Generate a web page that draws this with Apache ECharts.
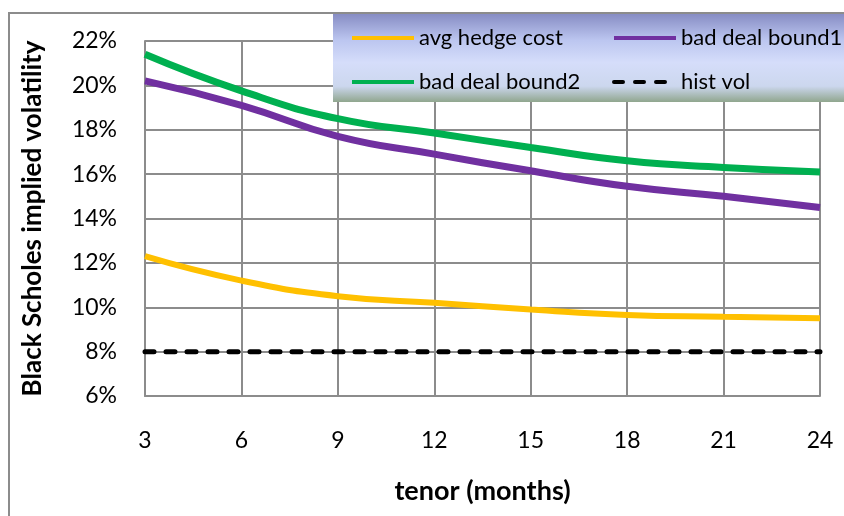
<!DOCTYPE html>
<html>
<head>
<meta charset="utf-8">
<script src="https://cdn.jsdelivr.net/npm/echarts@6/dist/echarts.min.js"></script>
<style>html,body{margin:0;padding:0;background:#fff}#c{width:844px;height:516px}</style>
</head>
<body>
<div id="c"></div>
<script>
const tenor = [3, 6, 9, 12, 15, 18, 21, 24];
const avgHedgeCost = [12.3, 11.2, 10.5, 10.2, 9.9, 9.65, 9.57, 9.5];
const badDealBound1 = [20.2, 19.1, 17.7, 16.9, 16.15, 15.45, 15.0, 14.5];
const badDealBound2 = [21.4, 19.75, 18.5, 17.85, 17.2, 16.6, 16.3, 16.1];
const histVol = [8, 8, 8, 8, 8, 8, 8, 8];
const yTicks = [6, 8, 10, 12, 14, 16, 18, 20, 22];

const FONT = 'Lato';
const pair = arr => tenor.map((t, i) => [t, arr[i]]);
const chart = echarts.init(document.getElementById('c'), null, {renderer: 'canvas'});
const gridColor = '#8c8c8c';
const legendCommon = {
  orient: 'vertical', top: 22, z: 200,
  itemWidth: 62, itemHeight: 22, itemGap: 22,
  textStyle: {fontFamily: FONT, fontSize: 22, color: '#000', lineHeight: 22},
  lineStyle: {width: 4},
  itemStyle: {color: 'transparent', borderWidth: 0, opacity: 0}
};
chart.setOption({
  animation: false,
  textStyle: {fontFamily: FONT, color: '#000'},
  grid: {left: 145, right: 24, top: 41, bottom: 120, show: false},
  graphic: [
    {type: 'rect', z: -10, shape: {x: 9, y: 13, width: 900, height: 600},
     style: {fill: 'none', stroke: gridColor, lineWidth: 2}},
    {type: 'rect', z: 100, shape: {x: 333, y: 14, width: 520, height: 88},
     style: {
       fill: new echarts.graphic.LinearGradient(0, 0, 0, 1, [
         {offset: 0, color: '#878dc4'},
         {offset: 0.3, color: '#bcc6f0'},
         {offset: 0.55, color: '#d5ddfa'},
         {offset: 0.82, color: '#ccd7ee'},
         {offset: 1, color: '#90a68e'}
       ])
     }}
  ],
  legend: [
    Object.assign({data: ['avg hedge cost', 'bad deal bound2'], left: 345}, legendCommon),
    Object.assign({data: ['bad deal bound1', 'hist vol'], left: 607}, legendCommon)
  ],
  xAxis: {
    type: 'value', min: 3, max: 24, interval: 3,
    name: 'tenor (months)', nameLocation: 'middle', nameGap: 82,
    nameTextStyle: {fontFamily: FONT, fontSize: 27, fontWeight: 'bold', color: '#000'},
    axisLine: {show: true, lineStyle: {color: gridColor, width: 2}},
    axisTick: {show: false},
    axisLabel: {margin: 33, fontSize: 23, color: '#000', fontFamily: FONT},
    splitLine: {show: true, lineStyle: {color: gridColor, width: 2}}
  },
  yAxis: {
    type: 'value', min: yTicks[0], max: yTicks[yTicks.length - 1], interval: 2,
    name: 'Black Scholes implied volatility', nameLocation: 'middle', nameGap: 99, nameRotate: 90,
    nameTextStyle: {fontFamily: FONT, fontSize: 26, fontWeight: 'bold', color: '#000'},
    axisLine: {show: true, lineStyle: {color: gridColor, width: 2}},
    axisTick: {show: false},
    axisLabel: {margin: 28, fontSize: 23, color: '#000', fontFamily: FONT, formatter: '{value}%'},
    splitLine: {show: true, lineStyle: {color: gridColor, width: 2}}
  },
  series: [
    {name: 'avg hedge cost', type: 'line', data: pair(avgHedgeCost), smooth: true, symbol: 'none',
     itemStyle: {color: '#ffc000'}, lineStyle: {color: '#ffc000', width: 6}, z: 3},
    {name: 'bad deal bound1', type: 'line', data: pair(badDealBound1), smooth: true, symbol: 'none',
     itemStyle: {color: '#7030a0'}, lineStyle: {color: '#7030a0', width: 7}, z: 3},
    {name: 'bad deal bound2', type: 'line', data: pair(badDealBound2), smooth: true, symbol: 'none',
     itemStyle: {color: '#00b050'}, lineStyle: {color: '#00b050', width: 7}, z: 3},
    {name: 'hist vol', type: 'line', data: pair(histVol), symbol: 'none',
     itemStyle: {color: '#000'}, lineStyle: {color: '#000', width: 5, type: [9, 12], cap: 'round'}, z: 3}
  ]
});
</script>
</body>
</html>
